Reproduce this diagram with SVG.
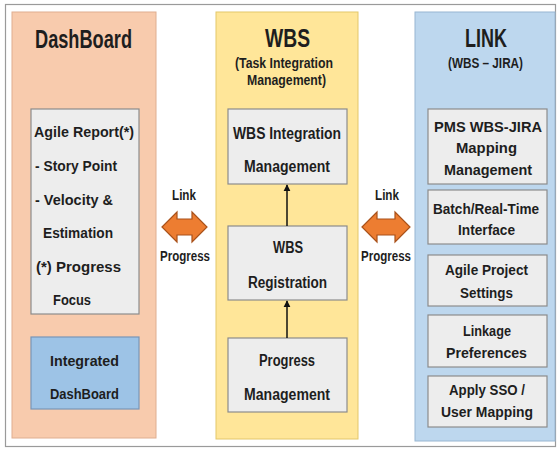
<svg xmlns="http://www.w3.org/2000/svg" width="557" height="449" viewBox="0 0 557 449">
<defs>
<style>
text{font-family:"Liberation Sans",Arial,sans-serif;font-weight:bold;fill:#1e1e1e;text-anchor:middle}
.st{text-anchor:start}
.t{font-size:25px}
.s{font-size:14px}
.b{font-size:16px}
.l{font-size:15px}
.box{fill:#ededed;stroke:#8c8c8c;stroke-width:1.2}
.lbl{font-size:14px}
.dbl{fill:#ed7d31;stroke:#a9511a;stroke-width:1.2}
</style>
<marker id="ah" viewBox="0 0 10 10" refX="9" refY="5" markerWidth="7" markerHeight="8" orient="auto" markerUnits="userSpaceOnUse">
<path d="M0,0 L10,5 L0,10 z" fill="#111"/>
</marker>
</defs>
<rect x="0" y="0" width="557" height="449" fill="#fff"/>
<rect x="5.5" y="4.5" width="550" height="442" fill="#fff" stroke="#9a9a9a" stroke-width="1.2"/>

<g id="dashboard">
<rect x="12" y="12" width="144" height="426" fill="#f8cbad" stroke="#dfae90" stroke-width="1"/>
<text class="t" x="83.5" y="48" textLength="97" lengthAdjust="spacingAndGlyphs">DashBoard</text>
</g>
<g id="agile-report">
<rect class="box" x="31" y="109" width="108" height="205"/>
<text class="l st" x="34" y="137" textLength="100" lengthAdjust="spacingAndGlyphs">Agile Report(*)</text>
<text class="l st" x="35" y="171" textLength="82" lengthAdjust="spacingAndGlyphs">- Story Point</text>
<text class="l st" x="35" y="205" textLength="78" lengthAdjust="spacingAndGlyphs">- Velocity &amp;</text>
<text class="l st" x="43" y="238" textLength="70" lengthAdjust="spacingAndGlyphs">Estimation</text>
<text class="l st" x="36" y="272" textLength="85" lengthAdjust="spacingAndGlyphs">(*) Progress</text>
<text class="l st" x="53" y="305" textLength="38" lengthAdjust="spacingAndGlyphs">Focus</text>
</g>
<g id="integrated-dashboard">
<rect x="31" y="337" width="108" height="72" fill="#9dc3e6" stroke="#7896b8" stroke-width="1.2"/>
<text class="l" x="84.5" y="366" textLength="69" lengthAdjust="spacingAndGlyphs">Integrated</text>
<text class="l" x="84.5" y="399" textLength="69" lengthAdjust="spacingAndGlyphs">DashBoard</text>
</g>

<g id="wbs">
<rect x="216" y="12" width="142" height="427" fill="#ffe699" stroke="#e3c76a" stroke-width="1"/>
<text class="t" x="287.5" y="47" textLength="45" lengthAdjust="spacingAndGlyphs">WBS</text>
<text class="s" x="284" y="68" textLength="98" lengthAdjust="spacingAndGlyphs">(Task Integration</text>
<text class="s" x="286.5" y="85" textLength="79" lengthAdjust="spacingAndGlyphs">Management)</text>
</g>
<g id="wbs-integration">
<rect class="box" x="228" y="109" width="119" height="75"/>
<text class="b" x="287" y="139" textLength="108" lengthAdjust="spacingAndGlyphs">WBS Integration</text>
<text class="b" x="287" y="172" textLength="86" lengthAdjust="spacingAndGlyphs">Management</text>
</g>
<g id="wbs-registration">
<rect class="box" x="228" y="226" width="119" height="74"/>
<text class="b" x="288" y="253" textLength="30" lengthAdjust="spacingAndGlyphs">WBS</text>
<text class="b" x="287.5" y="288" textLength="79" lengthAdjust="spacingAndGlyphs">Registration</text>
</g>
<g id="progress-management">
<rect class="box" x="228" y="338" width="119" height="74"/>
<text class="b" x="287" y="366" textLength="56" lengthAdjust="spacingAndGlyphs">Progress</text>
<text class="b" x="287" y="400" textLength="86" lengthAdjust="spacingAndGlyphs">Management</text>
</g>

<g id="link">
<rect x="415" y="12" width="140" height="429" fill="#bdd7ee" stroke="#98b6d2" stroke-width="1"/>
<text class="t" x="486" y="47" textLength="42" lengthAdjust="spacingAndGlyphs">LINK</text>
<text class="s" x="485.5" y="68" textLength="75" lengthAdjust="spacingAndGlyphs">(WBS – JIRA)</text>
</g>
<g id="pms-mapping">
<rect class="box" x="428" y="109" width="119" height="75"/>
<text class="l" x="488" y="132" textLength="108" lengthAdjust="spacingAndGlyphs">PMS WBS-JIRA</text>
<text class="l" x="486.5" y="153" textLength="61" lengthAdjust="spacingAndGlyphs">Mapping</text>
<text class="l" x="488" y="175" textLength="88" lengthAdjust="spacingAndGlyphs">Management</text>
</g>
<g id="batch-interface">
<rect class="box" x="428" y="190" width="119" height="54"/>
<text class="l" x="486" y="214" textLength="106" lengthAdjust="spacingAndGlyphs">Batch/Real-Time</text>
<text class="l" x="486.5" y="235" textLength="57" lengthAdjust="spacingAndGlyphs">Interface</text>
</g>
<g id="agile-settings">
<rect class="box" x="428" y="255" width="119" height="51"/>
<text class="l" x="486.5" y="275" textLength="83" lengthAdjust="spacingAndGlyphs">Agile Project</text>
<text class="l" x="486.5" y="298" textLength="53" lengthAdjust="spacingAndGlyphs">Settings</text>
</g>
<g id="linkage-preferences">
<rect class="box" x="428" y="315" width="119" height="52"/>
<text class="l" x="487" y="336" textLength="48" lengthAdjust="spacingAndGlyphs">Linkage</text>
<text class="l" x="486.5" y="358" textLength="81" lengthAdjust="spacingAndGlyphs">Preferences</text>
</g>
<g id="sso-mapping">
<rect class="box" x="428" y="376" width="119" height="51"/>
<text class="l" x="487" y="395" textLength="76" lengthAdjust="spacingAndGlyphs">Apply SSO /</text>
<text class="l" x="487" y="417" textLength="92" lengthAdjust="spacingAndGlyphs">User Mapping</text>
</g>

<g id="connectors">
<line x1="287" y1="226" x2="287" y2="185" stroke="#111" stroke-width="1.5" marker-end="url(#ah)"/>
<line x1="287" y1="338" x2="287" y2="301" stroke="#111" stroke-width="1.5" marker-end="url(#ah)"/>
<path class="dbl" d="M162,227 L177,212 L177,219 L192,219 L192,212 L207,227 L192,242 L192,235 L177,235 L177,242 Z"/>
<text class="lbl" x="184" y="200" textLength="24" lengthAdjust="spacingAndGlyphs">Link</text>
<text class="lbl" x="185" y="261" textLength="50" lengthAdjust="spacingAndGlyphs">Progress</text>
<path class="dbl" d="M362,227 L377,212 L377,219 L395,219 L395,212 L410,227 L395,242 L395,235 L377,235 L377,242 Z"/>
<text class="lbl" x="387" y="200" textLength="24" lengthAdjust="spacingAndGlyphs">Link</text>
<text class="lbl" x="386" y="261" textLength="50" lengthAdjust="spacingAndGlyphs">Progress</text>
</g>
</svg>
